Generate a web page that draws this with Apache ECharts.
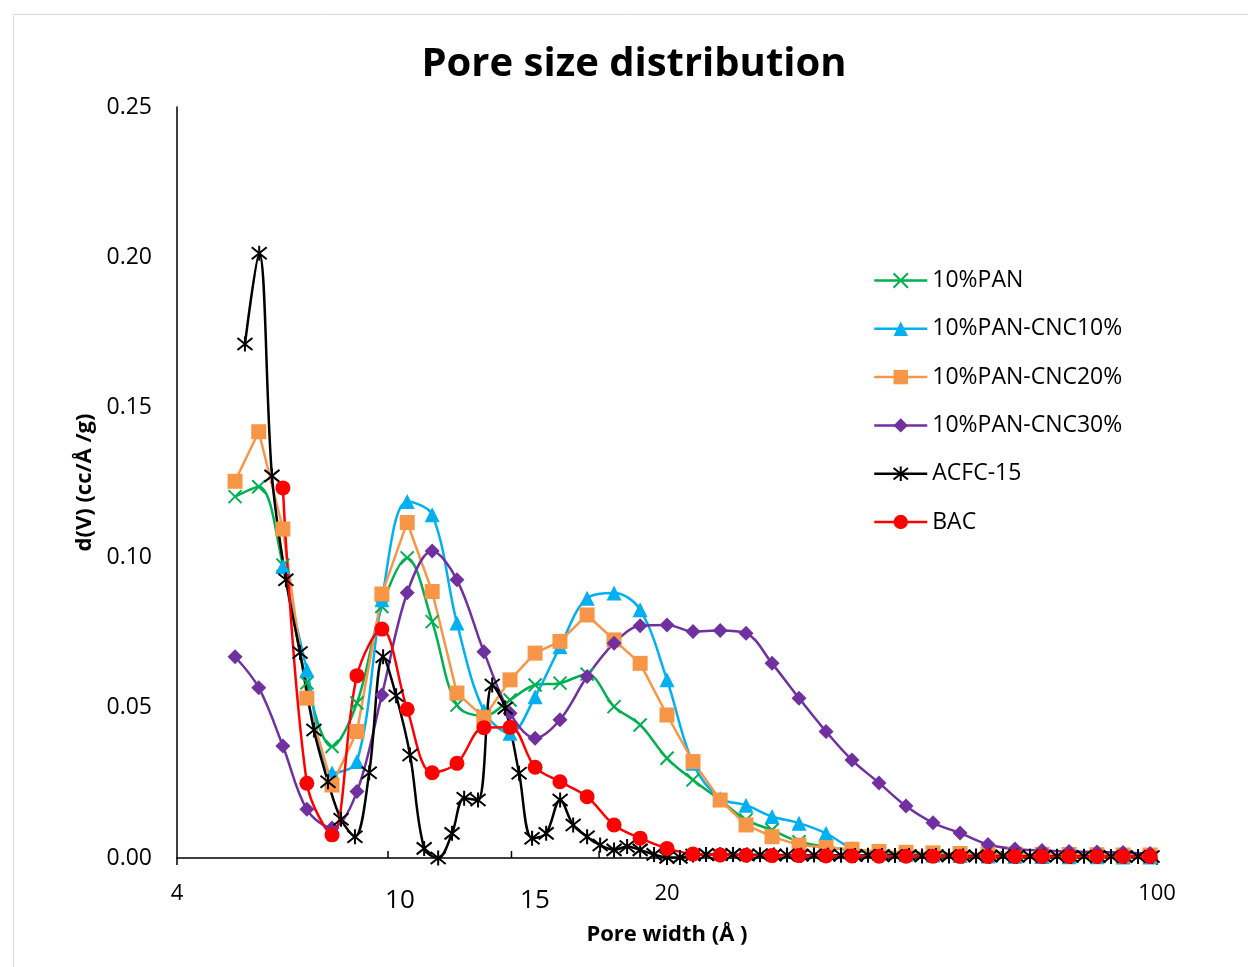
<!DOCTYPE html>
<html>
<head>
<meta charset="utf-8">
<title>Pore size distribution</title>
<script src="https://cdn.jsdelivr.net/npm/echarts@6/dist/echarts.min.js"></script>
<style>
  html, body { margin: 0; padding: 0; background: #ffffff; }
  #chart { width: 1248px; height: 967px; }
</style>
</head>
<body>
<div id="chart"></div>
<script>
// Pore widths (Å) shared by the DFT series
const poreWidthMain = [6.05, 6.54, 7.08, 7.66, 8.32, 9.03, 9.80, 10.65, 11.56, 12.54, 13.70, 14.93,
  16.21, 17.59, 19.23, 21.01, 22.89, 25.00, 27.23, 29.77, 32.41, 35.30, 38.57, 42.15,
  45.90, 50.16, 54.81, 59.90, 65.46, 71.76, 78.41, 85.68, 93.64, 102.64, 111.81, 122.18];

// Finer pore-width grid of the ACFC-15 sample
const poreWidthACFC = [6.25, 6.55, 6.83, 7.15, 7.49, 7.84, 8.21, 8.57, 8.97, 9.40, 9.84, 10.27,
  10.75, 11.26, 11.79, 12.34, 12.84, 13.44, 14.08, 14.69, 15.38, 16.05, 16.81, 17.60,
  18.37, 19.23, 20.07, 21.01, 21.93, 22.89, 23.96, 25.00, 26.09, 27.23, 28.42, 29.76,
  31.05, 32.52, 33.93, 35.53, 37.08, 38.83, 40.52, 42.43, 44.28, 46.36, 48.38, 50.66,
  52.87, 55.36, 57.78, 60.49, 63.13, 66.10, 68.99, 72.23, 75.38, 78.93, 82.38, 86.25,
  90.02, 94.25, 98.36, 102.99, 107.49, 112.54, 117.45, 122.98];

// d(V) values, cc/Å/g
const pan10 = [0.1203, 0.1236, 0.0975, 0.0583, 0.0371, 0.0516, 0.0837, 0.0999, 0.0787, 0.0509, 0.0473, 0.0526,
  0.0576, 0.0582, 0.0612, 0.0504, 0.0443, 0.0332, 0.0260, 0.0193, 0.0127, 0.0093, 0.0054, 0.0038,
  0.0025, 0.0018, 0.0015, 0.0012, 0.0010, 0.0009, 0.0008, 0.0007, 0.0006, 0.0006, 0.0005, 0.0005];

const panCnc10 = [null, null, 0.0970, 0.0626, 0.0283, 0.0321, 0.0860, 0.1187, 0.1143, 0.0782, 0.0490, 0.0415,
  0.0537, 0.0703, 0.0865, 0.0882, 0.0826, 0.0593, 0.0315, 0.0198, 0.0176, 0.0138, 0.0116, 0.0082,
  0.0032, 0.0015, 0.0012, 0.0010, 0.0008, 0.0007, 0.0006, 0.0005, 0.0004, 0.0004, 0.0003, 0.0003];

const panCnc20 = [0.1254, 0.1419, 0.1095, 0.0532, 0.0243, 0.0421, 0.0879, 0.1117, 0.0887, 0.0549, 0.0468, 0.0593,
  0.0682, 0.0721, 0.0809, 0.0726, 0.0648, 0.0476, 0.0321, 0.0193, 0.0110, 0.0071, 0.0043, 0.0035,
  0.0029, 0.0022, 0.0019, 0.0017, 0.0015, 0.0014, 0.0013, 0.0012, 0.0012, 0.0011, 0.0010, 0.0010];

const panCnc30 = [0.0670, 0.0567, 0.0373, 0.0162, 0.0100, 0.0221, 0.0543, 0.0883, 0.1022, 0.0926, 0.0687, 0.0482,
  0.0399, 0.0460, 0.0604, 0.0715, 0.0773, 0.0776, 0.0754, 0.0757, 0.0748, 0.0648, 0.0532, 0.0421,
  0.0326, 0.0250, 0.0173, 0.0117, 0.0083, 0.0045, 0.0030, 0.0025, 0.0022, 0.0020, 0.0018, 0.0015];

const acfc15 = [0.1711, 0.2013, 0.1272, 0.0926, 0.0684, 0.0426, 0.0254, 0.0129, 0.0071, 0.0284, 0.0670, 0.0540,
  0.0343, 0.0032, 0.0000, 0.0082, 0.0199, 0.0193, 0.0576, 0.0499, 0.0282, 0.0066, 0.0082, 0.0193,
  0.0110, 0.0071, 0.0043, 0.0027, 0.0038, 0.0027, 0.0012, 0.0002, 0.0002, 0.0010, 0.0012, 0.0011,
  0.0012, 0.0010, 0.0011, 0.0010, 0.0010, 0.0009, 0.0010, 0.0009, 0.0009, 0.0008, 0.0009, 0.0008,
  0.0008, 0.0008, 0.0007, 0.0008, 0.0007, 0.0007, 0.0007, 0.0006, 0.0007, 0.0006, 0.0006, 0.0006,
  0.0006, 0.0005, 0.0006, 0.0005, 0.0005, 0.0005, 0.0005, 0.0005];

const bac = [null, null, 0.1232, 0.0249, 0.0077, 0.0607, 0.0762, 0.0495, 0.0284, 0.0315, 0.0434, 0.0435,
  0.0302, 0.0254, 0.0204, 0.0110, 0.0066, 0.0032, 0.0013, 0.0010, 0.0009, 0.0008, 0.0008, 0.0007,
  0.0007, 0.0006, 0.0006, 0.0006, 0.0005, 0.0005, 0.0005, 0.0005, 0.0005, 0.0005, 0.0005, 0.0005];

const seriesNames = ['10%PAN', '10%PAN-CNC10%', '10%PAN-CNC20%', '10%PAN-CNC30%', 'ACFC-15', 'BAC'];

// Axis text
const xLabelValues = [5, 25, 125];
const xLabelTexts = ['4', '20', '100'];
const xExtraLabelValues = [10.4, 16.2];
const xExtraLabelTexts = ['10', '15'];
const xMinorTickValues = [10, 15, 20, 50, 75, 100];

const FONT = '"Open Sans", "Liberation Sans", sans-serif';
const crossPath = 'path://M0,0L10,10M10,0L0,10';
const starPath = 'path://M0,1L10,9M10,1L0,9M5,0L5,10';

function pairs(xs, ys) {
  const out = [];
  xs.forEach(function (x, i) { if (ys[i] != null) out.push([x, ys[i]]); });
  return out;
}

function lineSeries(name, xs, ys, color, symbol, size, smooth, strokeOnly) {
  return {
    name: name,
    type: 'line',
    data: pairs(xs, ys),
    smooth: smooth,
    symbol: symbol,
    symbolSize: size,
    showAllSymbol: true,
    lineStyle: { color: color, width: 2.5 },
    itemStyle: strokeOnly
      ? { color: color, borderColor: color, borderWidth: 2 }
      : { color: color, borderWidth: 0 },
    emphasis: { disabled: true }
  };
}

const chart = echarts.init(document.getElementById('chart'), null, { renderer: 'canvas' });

const option = {
  animation: false,
  backgroundColor: '#ffffff',
  title: {
    text: 'Pore size distribution',
    left: 629,
    top: 38,
    textAlign: 'center',
    textStyle: { fontFamily: FONT, fontSize: 40, fontWeight: 'bold', color: '#000000', lineHeight: 44 }
  },
  legend: {
    orient: 'vertical',
    left: 873,
    top: 269,
    padding: 0,
    itemWidth: 53,
    itemHeight: 18,
    itemGap: 25.3,
    lineStyle: { width: 2.5 },
    textStyle: { fontFamily: FONT, fontSize: 23, color: '#000000', padding: [0, 0, 0, 0] },
    data: seriesNames
  },
  grid: { left: 177, right: 91, top: 107, bottom: 109, containLabel: false },
  xAxis: {
    type: 'log',
    logBase: 5,
    min: 5,
    max: 125,
    name: 'Pore width (Å )',
    nameLocation: 'middle',
    nameGap: 66,
    nameTextStyle: { fontFamily: FONT, fontSize: 22, fontWeight: 'bold', color: '#000000' },
    axisLine: { lineStyle: { color: '#000000', width: 1.5 } },
    axisTick: { show: true, inside: false, length: 7, lineStyle: { color: '#000000', width: 1.5 } },
    splitLine: { show: false },
    minorTick: { show: false },
    axisLabel: {
      margin: 25,
      fontFamily: FONT,
      fontSize: 22,
      color: '#000000',
      formatter: function (v) {
        const i = xLabelValues.indexOf(Math.round(v));
        return i >= 0 ? xLabelTexts[i] : '';
      }
    }
  },
  yAxis: {
    type: 'value',
    min: 0,
    max: 0.25,
    interval: 0.05,
    name: 'd(V) (cc/Å /g)',
    nameLocation: 'middle',
    nameRotate: 90,
    nameGap: 79,
    nameTextStyle: { fontFamily: FONT, fontSize: 22, fontWeight: 'bold', color: '#000000' },
    axisLine: { show: true, lineStyle: { color: '#000000', width: 1.5 } },
    axisTick: { show: false },
    splitLine: { show: false },
    axisLabel: {
      margin: 25,
      fontFamily: FONT,
      fontSize: 23,
      color: '#000000',
      formatter: function (v) { return v.toFixed(2); }
    }
  },
  series: [
    lineSeries(seriesNames[0], poreWidthMain, pan10, '#00B050', crossPath, 13, 0.35, true),
    lineSeries(seriesNames[1], poreWidthMain, panCnc10, '#00B0F0', 'triangle', 15, 0.35, false),
    lineSeries(seriesNames[2], poreWidthMain, panCnc20, '#F79646', 'rect', 15, false, false),
    lineSeries(seriesNames[3], poreWidthMain, panCnc30, '#7030A0', 'diamond', 15, 0.35, false),
    lineSeries(seriesNames[4], poreWidthACFC, acfc15, '#000000', starPath, 15, 0.35, true),
    lineSeries(seriesNames[5], poreWidthMain, bac, '#FF0000', 'circle', 15, 0.35, false)
  ]
};

chart.setOption(option);

// Minor ticks inside the x axis and the two larger hand-placed labels
function xPixel(v) { return chart.convertToPixel({ gridIndex: 0 }, [v, 0]); }

const extras = [];
extras.push({
  type: 'rect',
  silent: true,
  shape: { x: 13.5, y: 14.5, width: 1300, height: 1000 },
  style: { fill: 'none', stroke: '#d9d9d9', lineWidth: 1 }
});
xMinorTickValues.forEach(function (v) {
  const p = xPixel(v);
  extras.push({
    type: 'line',
    silent: true,
    shape: { x1: p[0], y1: p[1], x2: p[0], y2: p[1] - 7 },
    style: { stroke: '#000000', lineWidth: 1.5 }
  });
});
xExtraLabelValues.forEach(function (v, i) {
  const p = xPixel(v);
  extras.push({
    type: 'text',
    silent: true,
    x: p[0],
    y: p[1] + 43,
    style: {
      text: xExtraLabelTexts[i],
      fontFamily: FONT,
      fontSize: 26,
      fill: '#000000',
      align: 'center',
      verticalAlign: 'middle'
    }
  });
});
chart.setOption({ graphic: extras });
</script>
</body>
</html>
